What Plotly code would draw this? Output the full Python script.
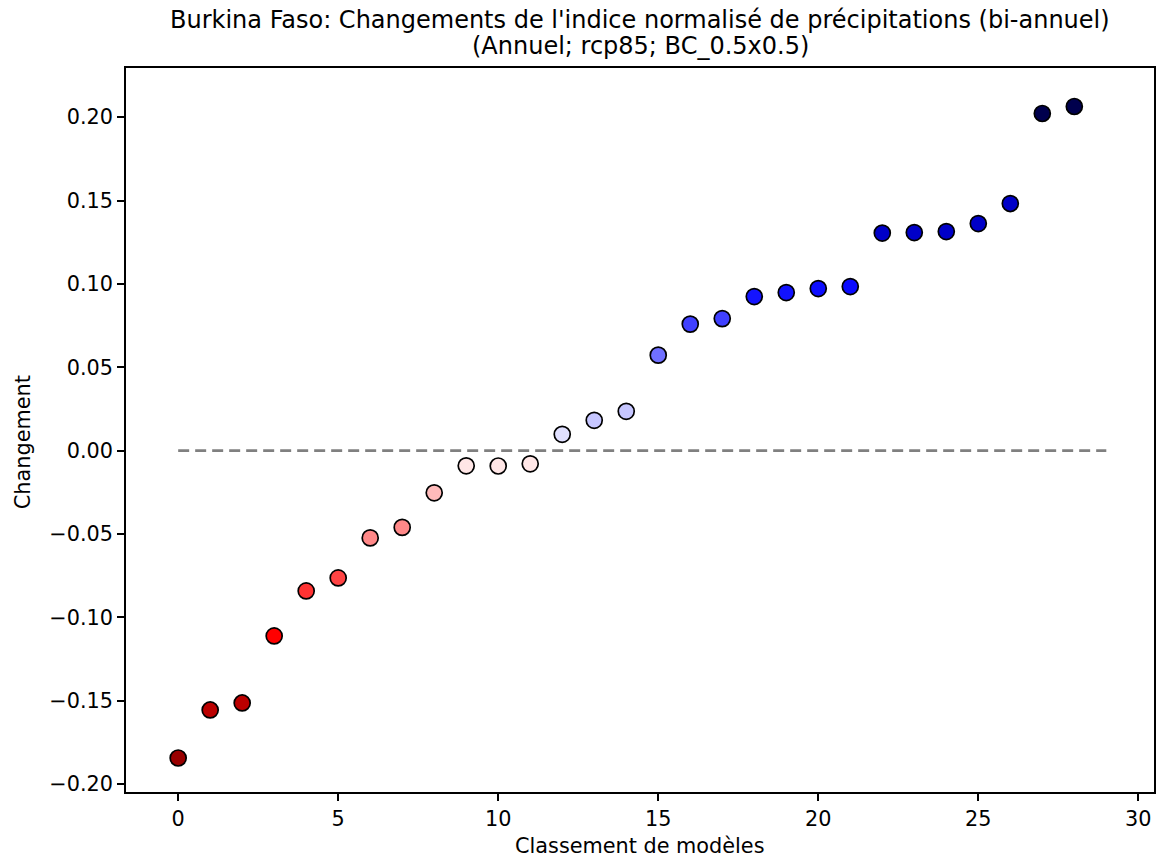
import plotly.graph_objects as go

title_line1 = "Burkina Faso: Changements de l'indice normalisé de précipitations (bi-annuel)"
title_line2 = "(Annuel; rcp85; BC_0.5x0.5)"
x_label = "Classement de modèles"
y_label = "Changement"

ranks = list(range(29))
changes = [-0.1843, -0.1555, -0.1513, -0.1111, -0.0841, -0.0763, -0.0523, -0.0460,
           -0.0253, -0.0091, -0.0092, -0.0079, 0.0098, 0.0182, 0.0236, 0.0573,
           0.0759, 0.0792, 0.0924, 0.0948, 0.0972, 0.0984, 0.1305, 0.1308,
           0.1314, 0.1362, 0.1482, 0.2022, 0.2064]
point_colors = ["#990000", "#BB0000", "#BB0000", "#FF0000", "#FF3333", "#FF4444",
                "#FF8888", "#FF8888", "#FFBBBB", "#FFE6E6", "#FFE6E6", "#FFE6E6",
                "#E0E0FF", "#C6C6FF", "#C6C6FF", "#7070FF", "#4040FF", "#4040FF",
                "#1414FF", "#1212FF", "#0E0EFF", "#0A0AFF", "#0000C8", "#0000C8",
                "#0000C8", "#0000C8", "#0000C8", "#00004D", "#00004D"]
zero_line_x = [0, 29]
zero_line_y = [0, 0]
x_ticks = [0, 5, 10, 15, 20, 25, 30]
y_ticks = [-0.20, -0.15, -0.10, -0.05, 0.00, 0.05, 0.10, 0.15, 0.20]

FONT = "DejaVu Sans, Arial, sans-serif"
W, H = 1160, 859
ML, MR, MT, MB = 126, 4, 68, 67
PW, PH = W - ML - MR, H - MT - MB


def px_to_paper_x(px):
    return (px - ML) / PW


def px_to_paper_y(py):
    return (H - MB - py) / PH


fig = go.Figure()
fig.add_trace(go.Scatter(
    x=zero_line_x, y=zero_line_y, mode="lines",
    line=dict(color="#808080", width=2.8, dash="11px,6px"),
    showlegend=False, hoverinfo="skip"))
fig.add_trace(go.Scatter(
    x=ranks, y=changes, mode="markers",
    marker=dict(size=16, color=point_colors, line=dict(color="black", width=1.7)),
    showlegend=False))

axis_common = dict(
    showline=True, linecolor="black", linewidth=1.5, mirror=True,
    ticks="outside", ticklen=7, tickwidth=1.5, tickcolor="black",
    showgrid=False, zeroline=False,
    tickfont=dict(family=FONT, size=20.8, color="black"),
)

annotations = [
    dict(text=title_line1, x=px_to_paper_x(641), y=px_to_paper_y(20),
         xref="paper", yref="paper", xanchor="center", yanchor="middle",
         showarrow=False, font=dict(family=FONT, size=24, color="black")),
    dict(text=title_line2, x=px_to_paper_x(641), y=px_to_paper_y(46),
         xref="paper", yref="paper", xanchor="center", yanchor="middle",
         showarrow=False, font=dict(family=FONT, size=24, color="black")),
    dict(text=x_label, x=px_to_paper_x(641), y=px_to_paper_y(846),
         xref="paper", yref="paper", xanchor="center", yanchor="middle",
         showarrow=False, font=dict(family=FONT, size=20.8, color="black")),
    dict(text=y_label, x=px_to_paper_x(23), y=px_to_paper_y(442),
         xref="paper", yref="paper", xanchor="center", yanchor="middle",
         textangle=-90,
         showarrow=False, font=dict(family=FONT, size=20.8, color="black")),
]

fig.update_layout(
    width=W, height=H,
    margin=dict(l=ML, r=MR, t=MT, b=MB),
    paper_bgcolor="white", plot_bgcolor="white",
    font=dict(family=FONT, color="black"),
    xaxis=dict(range=[-1.63, 30.49], tickvals=x_ticks, **axis_common),
    yaxis=dict(range=[-0.2047, 0.2295], tickvals=y_ticks, tickformat=".2f", **axis_common),
    annotations=annotations,
)

fig.write_html("out.html", config={"displayModeBar": False},
               post_script="document.body.style.margin='0';document.body.style.padding='0';")
